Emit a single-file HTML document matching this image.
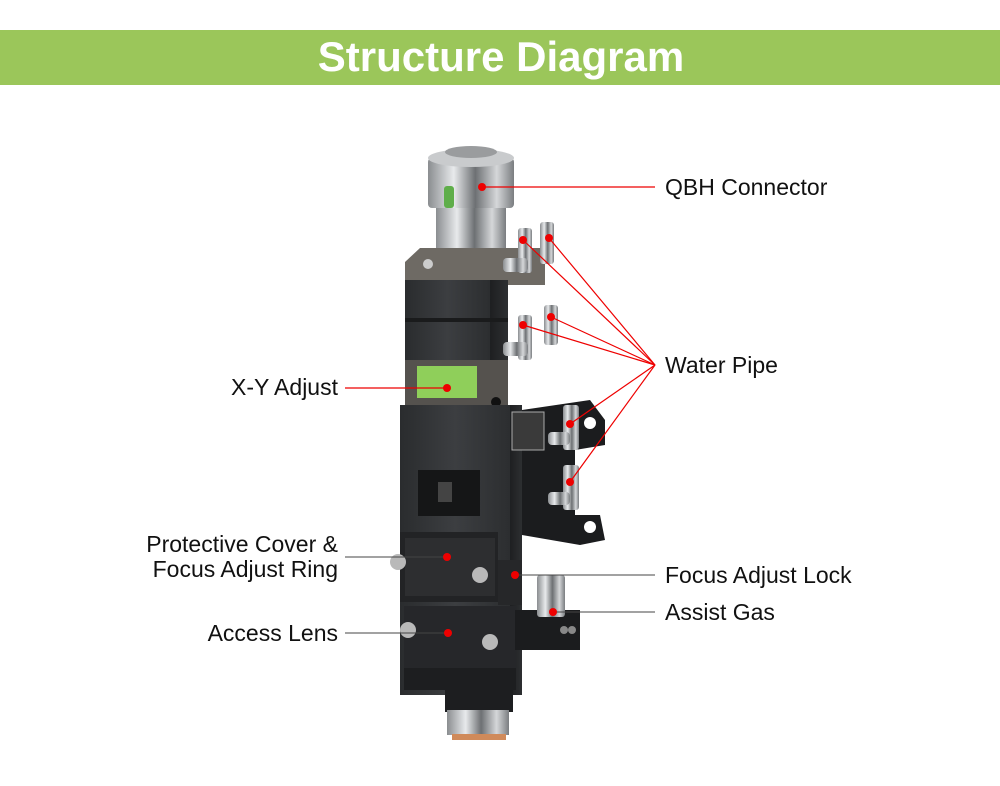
<!DOCTYPE html>
<html><head><meta charset="utf-8"><style>
body{margin:0;background:#fff;}
svg{display:block;}
text{font-family:"Liberation Sans",Arial,sans-serif;}
</style></head><body>
<svg width="1000" height="786" viewBox="0 0 1000 786" xmlns="http://www.w3.org/2000/svg">
<defs>
<linearGradient id="silver" x1="0" x2="1"><stop offset="0" stop-color="#8a8d90"/><stop offset="0.3" stop-color="#e8eaec"/><stop offset="0.55" stop-color="#6d7073"/><stop offset="0.8" stop-color="#d5d7d9"/><stop offset="1" stop-color="#7a7d80"/></linearGradient>
<linearGradient id="blk" x1="0" x2="1"><stop offset="0" stop-color="#2a2c2e"/><stop offset="0.5" stop-color="#3c3e41"/><stop offset="1" stop-color="#2c2e30"/></linearGradient>
<linearGradient id="side" x1="0" x2="1"><stop offset="0" stop-color="#1e1f21"/><stop offset="1" stop-color="#2d2f31"/></linearGradient>
</defs>
<rect x="0" y="30" width="1000" height="55" fill="#9bc65a"/>
<text x="501" y="71" text-anchor="middle" font-size="42" font-weight="bold" fill="#fff">Structure Diagram</text>

<!-- QBH -->
<rect x="436" y="205" width="70" height="48" fill="url(#silver)"/>
<rect x="428" y="158" width="86" height="50" rx="4" fill="url(#silver)"/>
<ellipse cx="471" cy="158" rx="43" ry="9" fill="#c9cbcd"/>
<ellipse cx="471" cy="152" rx="26" ry="6" fill="#9a9c9e"/>
<rect x="444" y="186" width="10" height="22" rx="3" fill="#5fae4a"/>
<!-- top plate -->
<polygon points="405,262 420,248 545,248 545,285 405,285" fill="#6e6a64"/>
<circle cx="428" cy="264" r="5" fill="#ccc"/>
<!-- upper block -->
<rect x="405" y="280" width="85" height="125" fill="url(#blk)"/>
<rect x="490" y="280" width="18" height="125" fill="url(#side)"/>
<rect x="405" y="318" width="103" height="4" fill="#1a1b1c"/>
<rect x="405" y="360" width="103" height="45" fill="#55524e"/>
<rect x="417" y="366" width="60" height="32" fill="#8fcf5a"/>
<circle cx="496" cy="402" r="5" fill="#111"/>
<!-- water fittings upper -->
<rect x="518" y="228" width="14" height="45" rx="3" fill="url(#silver)"/>
<rect x="540" y="222" width="14" height="42" rx="3" fill="url(#silver)"/>
<rect x="503" y="258" width="25" height="14" rx="4" fill="url(#silver)"/>
<rect x="518" y="315" width="14" height="45" rx="3" fill="url(#silver)"/>
<rect x="544" y="305" width="14" height="40" rx="3" fill="url(#silver)"/>
<rect x="503" y="342" width="25" height="14" rx="4" fill="url(#silver)"/>
<!-- lower body -->
<rect x="400" y="405" width="110" height="290" fill="url(#blk)"/>
<rect x="510" y="405" width="12" height="290" fill="url(#side)"/>
<!-- bracket -->
<polygon points="522,410 590,400 605,420 605,445 575,450 575,515 600,515 605,540 580,545 522,535" fill="#1b1c1e"/>
<circle cx="590" cy="423" r="6" fill="#fff"/>
<circle cx="590" cy="527" r="6" fill="#fff"/>
<rect x="563" y="405" width="16" height="45" rx="3" fill="url(#silver)"/>
<rect x="563" y="465" width="16" height="45" rx="3" fill="url(#silver)"/>
<rect x="548" y="432" width="22" height="13" rx="4" fill="url(#silver)"/>
<rect x="548" y="492" width="22" height="13" rx="4" fill="url(#silver)"/>
<rect x="512" y="412" width="32" height="38" fill="#3a3a3a" stroke="#aaa" stroke-width="1"/>
<!-- window -->
<rect x="418" y="470" width="62" height="46" fill="#151617"/>
<rect x="438" y="482" width="14" height="20" fill="#444"/>
<!-- protective cover -->
<rect x="400" y="532" width="98" height="70" fill="#222325"/>
<rect x="405" y="538" width="90" height="58" fill="#2d2e30"/>
<circle cx="398" cy="562" r="8" fill="#b9b9b9"/>
<circle cx="480" cy="575" r="8" fill="#b9b9b9"/>
<rect x="498" y="560" width="24" height="45" fill="#262729"/>
<!-- access lens -->
<rect x="404" y="606" width="112" height="84" fill="#26272a"/>
<rect x="404" y="668" width="112" height="22" fill="#1d1e20"/>
<circle cx="408" cy="630" r="8" fill="#b9b9b9"/>
<circle cx="490" cy="642" r="8" fill="#b9b9b9"/>
<!-- assist gas -->
<rect x="515" y="610" width="65" height="40" fill="#1b1c1e"/>
<rect x="537" y="575" width="28" height="42" rx="3" fill="url(#silver)"/>
<circle cx="564" cy="630" r="4" fill="#888"/><circle cx="572" cy="630" r="4" fill="#888"/>
<!-- nozzle -->
<rect x="445" y="690" width="68" height="22" fill="#1d1e20"/>
<rect x="447" y="710" width="62" height="25" fill="url(#silver)"/>
<rect x="452" y="734" width="54" height="6" fill="#d08a5a"/>

<!-- leader lines -->
<g stroke="#e00" stroke-width="1.2" fill="none">
<line x1="482" y1="187" x2="655" y2="187"/>
<line x1="523" y1="240" x2="655" y2="365"/>
<line x1="549" y1="238" x2="655" y2="365"/>
<line x1="523" y1="325" x2="655" y2="365"/>
<line x1="551" y1="317" x2="655" y2="365"/>
<line x1="570" y1="424" x2="655" y2="365"/>
<line x1="570" y1="482" x2="655" y2="365"/>
<line x1="345" y1="388" x2="447" y2="388"/>
</g>
<g stroke="#444" stroke-width="1" fill="none">
<line x1="345" y1="557" x2="447" y2="557"/>
<line x1="345" y1="633" x2="448" y2="633"/>
<line x1="515" y1="575" x2="655" y2="575"/>
<line x1="553" y1="612" x2="655" y2="612"/>
</g>
<g fill="#e00">
<circle cx="482" cy="187" r="4"/><circle cx="523" cy="240" r="4"/><circle cx="549" cy="238" r="4"/>
<circle cx="523" cy="325" r="4"/><circle cx="551" cy="317" r="4"/><circle cx="570" cy="424" r="4"/>
<circle cx="570" cy="482" r="4"/><circle cx="447" cy="388" r="4"/><circle cx="447" cy="557" r="4"/>
<circle cx="448" cy="633" r="4"/><circle cx="515" cy="575" r="4"/><circle cx="553" cy="612" r="4"/>
</g>
<g font-size="23" fill="#111">
<text x="665" y="195">QBH Connector</text>
<text x="665" y="373">Water Pipe</text>
<text x="338" y="395" text-anchor="end">X-Y Adjust</text>
<text x="338" y="552" text-anchor="end">Protective Cover &amp;</text>
<text x="338" y="577" text-anchor="end">Focus Adjust Ring</text>
<text x="338" y="641" text-anchor="end">Access Lens</text>
<text x="665" y="583">Focus Adjust Lock</text>
<text x="665" y="620">Assist Gas</text>
</g>
</svg>
</body></html>
